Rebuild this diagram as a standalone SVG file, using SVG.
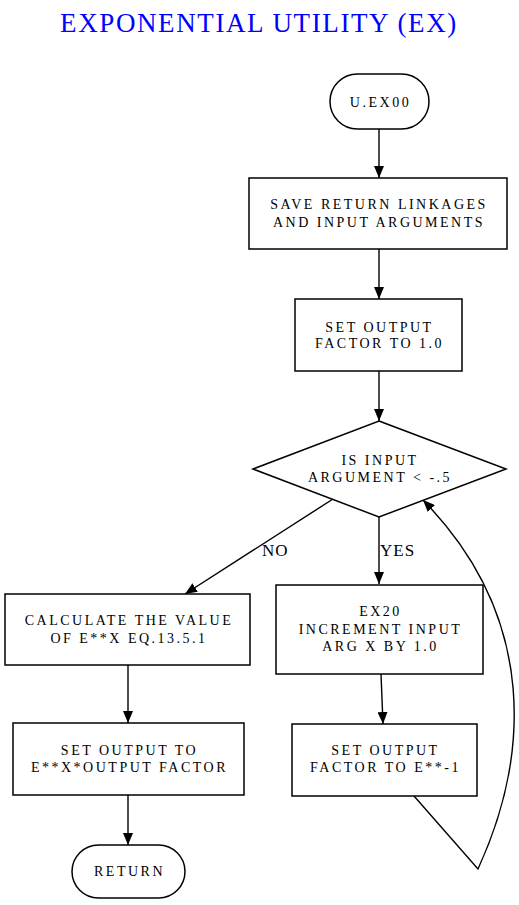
<svg xmlns="http://www.w3.org/2000/svg" width="519" height="905" viewBox="0 0 519 905">
<style>
.s{fill:#fff;stroke:#000;stroke-width:1.5}
.t{font-family:"Liberation Serif","Times New Roman",serif;font-size:14px;letter-spacing:2.5px;text-anchor:middle;fill:#000}
.e{fill:none;stroke:#000;stroke-width:1.4}
.l{font-family:"Liberation Serif","Times New Roman",serif;font-size:17px;letter-spacing:1px;fill:#000}
</style>
<defs>
<marker id="a" viewBox="0 0 12 10" refX="12" refY="5" markerWidth="12" markerHeight="10" markerUnits="userSpaceOnUse" orient="auto">
<path d="M0,0 L12,5 L0,10 Z" fill="#000"/>
</marker>
</defs>
<rect width="519" height="905" fill="#fff"/>
<text x="259" y="32" font-family="'Liberation Serif','Times New Roman',serif" font-size="27" fill="#0000ff" text-anchor="middle" letter-spacing="1.6">EXPONENTIAL UTILITY (EX)</text>
<g id="connectors">
<path class="e" d="M379,129 L379,178" marker-end="url(#a)"/>
<path class="e" d="M379,249 L379,299" marker-end="url(#a)"/>
<path class="e" d="M379,371 L379,421" marker-end="url(#a)"/>
<path class="e" d="M333,499 L185,594" marker-end="url(#a)"/>
<path class="e" d="M379,517 L379,584" marker-end="url(#a)"/>
<path class="e" d="M128,665 L128,723" marker-end="url(#a)"/>
<path class="e" d="M128,795 L128,845" marker-end="url(#a)"/>
<path class="e" d="M381,674 L383,724" marker-end="url(#a)"/>
<path class="e" d="M414,796 L478,869 C528,760 540,620 423,500" marker-end="url(#a)"/>
<text class="l" x="262" y="556">NO</text>
<text class="l" x="380" y="556">YES</text>
</g>
<g id="start">
<rect class="s" x="330" y="74" width="99" height="55" rx="27.5"/>
<text class="t" x="380.5" y="107">U.EX00</text>
</g>
<g id="save">
<rect class="s" x="249" y="178" width="258" height="71"/>
<text class="t" x="379" y="209">SAVE RETURN LINKAGES</text>
<text class="t" x="379" y="227">AND INPUT ARGUMENTS</text>
</g>
<g id="setfactor">
<rect class="s" x="295" y="299" width="167" height="72"/>
<text class="t" x="379.5" y="332">SET OUTPUT</text>
<text class="t" x="379.5" y="348">FACTOR TO 1.0</text>
</g>
<g id="decision">
<polygon class="s" points="379,421 506,469 379,517 253,469"/>
<text class="t" x="380" y="465">IS INPUT</text>
<text class="t" x="380" y="482">ARGUMENT &lt; -.5</text>
</g>
<g id="calc">
<rect class="s" x="5" y="594" width="245" height="71"/>
<text class="t" x="129" y="625">CALCULATE THE VALUE</text>
<text class="t" x="129" y="643">OF E**X EQ.13.5.1</text>
</g>
<g id="setoutput">
<rect class="s" x="13" y="723" width="231" height="72"/>
<text class="t" x="129.5" y="755">SET OUTPUT TO</text>
<text class="t" x="129.5" y="772">E**X*OUTPUT FACTOR</text>
</g>
<g id="return">
<rect class="s" x="72" y="845" width="113" height="53" rx="26.5"/>
<text class="t" x="129.5" y="876">RETURN</text>
</g>
<g id="ex20">
<rect class="s" x="276" y="585" width="207" height="89"/>
<text class="t" x="380.5" y="616">EX20</text>
<text class="t" x="380.5" y="634">INCREMENT INPUT</text>
<text class="t" x="380.5" y="651">ARG X BY 1.0</text>
</g>
<g id="setfactor2">
<rect class="s" x="292" y="724" width="185" height="72"/>
<text class="t" x="385.5" y="755">SET OUTPUT</text>
<text class="t" x="385.5" y="772">FACTOR TO E**-1</text>
</g>
</svg>
